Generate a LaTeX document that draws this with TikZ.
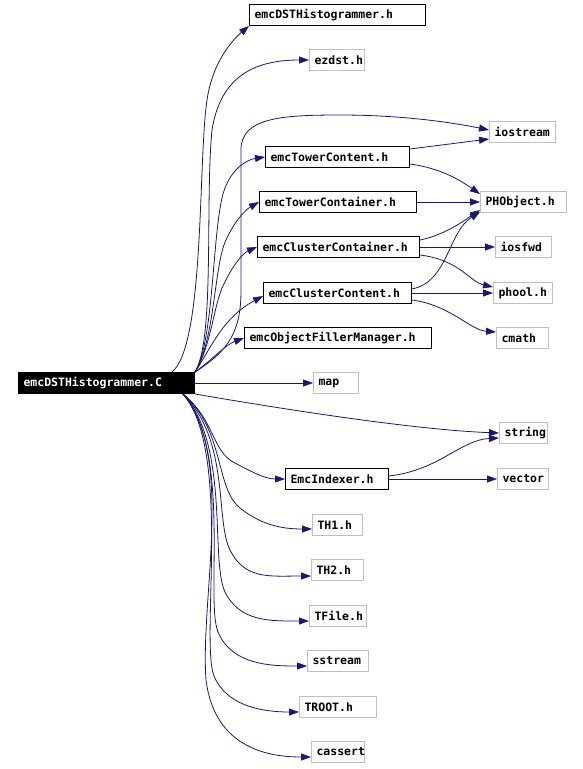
\documentclass[tikz,border=0pt]{standalone}
\usepackage{fontspec}
\setmonofont{DejaVu Sans Mono}
\usetikzlibrary{arrows.meta}
\definecolor{edgeblue}{HTML}{191970}
\definecolor{sysgrey}{HTML}{BFBFBF}

\begin{document}
\begin{tikzpicture}[
  x=1pt, y=-1pt,
  hdr/.style={draw=black, line width=1pt, anchor=west, minimum height=21pt, inner xsep=5pt, inner ysep=0pt, align=left, font=\ttfamily\bfseries\fontsize{11.5}{12}\selectfont},
  sys/.style={hdr, draw=sysgrey},
  main/.style={hdr, fill=black, text=white},
  dep/.style={draw=edgeblue, line width=0.8pt, -{Triangle[length=10pt,width=7pt]}}
]
\useasboundingbox (0,0) rectangle (583,769);

\node[main, text width=166pt] (root) at (18,383) {emcDSTHistogrammer.C};

\node[hdr, text width=166pt] (dsth) at (249,15) {emcDSTHistogrammer.h};
\node[sys, text width=45pt] (ezdst) at (309,60) {ezdst.h};
\node[sys, text width=56pt] (iostream) at (489,132) {iostream};
\node[hdr, text width=134pt] (towcont) at (265,157) {emcTowerContent.h};
\node[sys, text width=76pt] (phobject) at (480,202) {PHObject.h};
\node[hdr, text width=147pt] (towcontr) at (259,202) {emcTowerContainer.h};
\node[hdr, text width=152pt] (clucontr) at (257,247) {emcClusterContainer.h};
\node[sys, text width=46pt] (iosfwd) at (495,247) {iosfwd};
\node[hdr, text width=138pt] (clucont) at (263,293) {emcClusterContent.h};
\node[sys, text width=49pt] (phool) at (493,293) {phool.h};
\node[hdr, text width=177pt] (ofm) at (244,338) {emcObjectFillerManager.h};
\node[sys, text width=42pt] (cmath) at (496,338) {cmath};
\node[sys, text width=35pt] (map) at (313,383) {map};
\node[sys, text width=38pt] (string) at (499,433) {string};
\node[hdr, text width=93pt] (indexer) at (285,479) {EmcIndexer.h};
\node[sys, text width=41pt] (vector) at (497,479) {vector};
\node[sys, text width=40pt] (th1) at (312,525) {TH1.h};
\node[sys, text width=42pt] (th2) at (311,570) {TH2.h};
\node[sys, text width=47pt] (tfile) at (309,616) {TFile.h};
\node[sys, text width=51pt] (sstream) at (307,661) {sstream};
\node[sys, text width=67pt] (troot) at (299,707) {TROOT.h};
\node[sys, text width=43pt] (cassert) at (311,752) {cassert};

\draw[dep] ([xshift=-23pt]root.north east) .. controls (205,345) and (198,160) .. (207,100) .. controls (212,65) and (230,42) .. (dsth.south west);
\draw[dep] (root.north east) .. controls (215,340) and (205,200) .. (212,130) .. controls (220,80) and (250,60) .. (ezdst.west);
\draw[dep] (root.north east) .. controls (230,350) and (241,330) .. (241,290) -- (241,150) .. controls (241,118) and (280,115) .. (340,115) .. controls (400,115) and (450,122) .. ([yshift=2pt]iostream.west);
\draw[dep] (root.north east) .. controls (215,340) and (212,220) .. (225,188) .. controls (232,170) and (245,160) .. (towcont.west);
\draw[dep] (root.north east) .. controls (215,340) and (214,265) .. (226,240) .. controls (234,222) and (245,210) .. (towcontr.west);
\draw[dep] (root.north east) .. controls (212,345) and (214,300) .. (225,282) .. controls (233,265) and (243,253) .. (clucontr.west);
\draw[dep] (root.north east) .. controls (210,350) and (222,318) .. ([yshift=-3pt]clucont.west);
\draw[dep] (root.north east) .. controls (212,360) and (225,345) .. (ofm.west);
\draw[dep] (root.east) -- (map.west);
\draw[dep] (root.south east) .. controls (300,412) and (420,430) .. (string.west);
\draw[dep] ([xshift=-12pt]root.south east) .. controls (215,420) and (212,452) .. (235,463) .. controls (252,472) and (265,479) .. (indexer.west);
\draw[dep] ([xshift=-12pt]root.south east) .. controls (225,430) and (215,488) .. (240,508) .. controls (260,524) and (280,529) .. ([yshift=-4pt]th1.west);
\draw[dep] ([xshift=-12pt]root.south east) .. controls (230,440) and (215,520) .. (230,550) .. controls (245,580) and (270,576) .. ([yshift=-6pt]th2.west);
\draw[dep] ([xshift=-12pt]root.south east) .. controls (230,445) and (210,560) .. (225,592) .. controls (240,622) and (270,621) .. ([yshift=-5pt]tfile.west);
\draw[dep] ([xshift=-12pt]root.south east) .. controls (232,450) and (205,600) .. (218,632) .. controls (232,665) and (270,666) .. ([yshift=-5pt]sstream.west);
\draw[dep] ([xshift=-12pt]root.south east) .. controls (232,450) and (200,640) .. (214,676) .. controls (226,705) and (260,712) .. ([yshift=-5pt]troot.west);
\draw[dep] ([xshift=-12pt]root.south east) .. controls (235,455) and (200,600) .. (206,680) .. controls (213,735) and (250,757) .. ([yshift=-5pt]cassert.west);

\draw[dep] ([yshift=8pt]towcont.east) -- ([yshift=-7pt]iostream.west);
\draw[dep] ([yshift=-7pt]towcont.east) .. controls (440,168) and (460,180) .. ([yshift=8pt]phobject.west);
\draw[dep] (towcontr.east) -- (phobject.west);
\draw[dep] ([yshift=7pt]clucontr.east) .. controls (445,235) and (465,220) .. ([yshift=-8pt]phobject.west);
\draw[dep] ([yshift=4pt]clucont.east) .. controls (448,282) and (448,232) .. ([yshift=-10pt]phobject.west);
\draw[dep] (clucontr.east) -- (iosfwd.west);
\draw[dep] ([yshift=-8pt]clucontr.east) .. controls (460,260) and (470,282) .. ([yshift=6pt]phool.west);
\draw[dep] (clucont.east) -- (phool.west);
\draw[dep] ([yshift=-7pt]clucont.east) .. controls (450,305) and (470,330) .. ([yshift=6pt]cmath.west);
\draw[dep] ([yshift=3pt]indexer.east) .. controls (440,470) and (460,440) .. ([yshift=-5pt]string.west);
\draw[dep] (indexer.east) -- (vector.west);
\end{tikzpicture}
\end{document}
